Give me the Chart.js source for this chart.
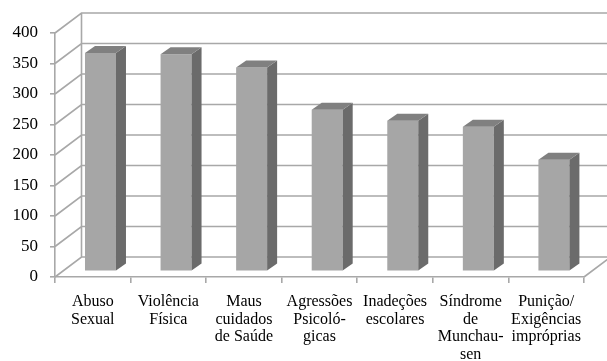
<!DOCTYPE html>
<html>
<head>
<meta charset="utf-8">
<script src="https://cdn.jsdelivr.net/npm/chart.js@4/dist/chart.umd.min.js"></script>
<style>
  html, body { margin: 0; padding: 0; background: #fff; }
  canvas { display: block; }
</style>
</head>
<body>
<canvas id="chart" width="607" height="361"></canvas>
<script>
// data
const categories = [
  ["Abuso", "Sexual"],
  ["Violência", "Física"],
  ["Maus", "cuidados", "de Saúde"],
  ["Agressões", "Psicoló-", "gicas"],
  ["Inadeções", "escolares"],
  ["Síndrome", "de", "Munchau-", "sen"],
  ["Punição/", "Exigências", "impróprias"]
];
const values = [358, 356, 334, 265, 247, 237, 183];
const yTicks = [0, 50, 100, 150, 200, 250, 300, 350, 400];

// 3D look: wall depth and bar depth
const WALL_DX = 26.5, WALL_DY = -20;
const BAR_SHIFT_X = 7.7, BAR_SHIFT_Y = -5.7;
const BAR_DX = 10, BAR_DY = -7;
const GRID = "#a8a8a8";

const wallPlugin = {
  id: "wall3d",
  beforeDatasetsDraw(chart) {
    const { ctx, chartArea: a, scales: { y } } = chart;
    ctx.save();
    ctx.strokeStyle = GRID;
    ctx.lineWidth = 1.6;
    ctx.beginPath();
    y.ticks.forEach(t => {
      const py = y.getPixelForValue(t.value);
      // left wall diagonal
      ctx.moveTo(a.left, py);
      ctx.lineTo(a.left + WALL_DX, py + WALL_DY);
      // back wall line
      ctx.lineTo(a.right + WALL_DX + 10, py + WALL_DY);
    });
    // back wall left edge
    ctx.moveTo(a.left + WALL_DX, y.getPixelForValue(400) + WALL_DY);
    ctx.lineTo(a.left + WALL_DX, y.getPixelForValue(0) + WALL_DY);
    // floor right edge
    ctx.moveTo(a.right, a.bottom);
    ctx.lineTo(a.right + WALL_DX, a.bottom + WALL_DY);
    ctx.stroke();
    ctx.restore();

    // bars sit in the middle of the floor depth
    ctx.save();
    ctx.translate(BAR_SHIFT_X, BAR_SHIFT_Y);
  },
  afterDatasetsDraw(chart) {
    const { ctx } = chart;
    chart.getDatasetMeta(0).data.forEach(bar => {
      const p = bar.getProps(["x", "y", "base", "width"], true);
      const l = p.x - p.width / 2, r = p.x + p.width / 2;
      // side
      ctx.fillStyle = "#6b6b6b";
      ctx.beginPath();
      ctx.moveTo(r, p.y);
      ctx.lineTo(r + BAR_DX, p.y + BAR_DY);
      ctx.lineTo(r + BAR_DX, p.base + BAR_DY);
      ctx.lineTo(r, p.base);
      ctx.closePath();
      ctx.fill();
      // top
      ctx.fillStyle = "#808080";
      ctx.beginPath();
      ctx.moveTo(l, p.y);
      ctx.lineTo(l + BAR_DX, p.y + BAR_DY);
      ctx.lineTo(r + BAR_DX, p.y + BAR_DY);
      ctx.lineTo(r, p.y);
      ctx.closePath();
      ctx.fill();
    });
    ctx.restore();
  }
};

new Chart(document.getElementById("chart"), {
  type: "bar",
  data: {
    labels: categories,
    datasets: [{
      data: values,
      backgroundColor: "#a6a6a6",
      borderWidth: 0,
      barPercentage: 0.41,
      categoryPercentage: 1
    }]
  },
  options: {
    responsive: false,
    animation: false,
    devicePixelRatio: 1,
    layout: { padding: { top: 33, right: 23, left: 0, bottom: 0 } },
    plugins: { legend: { display: false }, tooltip: { enabled: false } },
    scales: {
      x: {
        afterFit: s => { s.height = 84; },
        grid: { drawOnChartArea: false, color: GRID, lineWidth: 1.6, tickLength: 6 },
        border: { color: GRID, width: 1.6 },
        ticks: {
          autoSkip: false, maxRotation: 0, padding: 10, color: "#000",
          font: { family: "'Liberation Serif', 'Times New Roman', serif", size: 16, lineHeight: 1.1 }
        }
      },
      y: {
        min: 0, max: 400,
        afterFit: s => { s.width = 55; },
        afterBuildTicks: s => { s.ticks = yTicks.map(v => ({ value: v })); },
        grid: { drawOnChartArea: false, color: GRID, lineWidth: 1.6, tickLength: 5 },
        border: { color: GRID, width: 1.6 },
        ticks: {
          padding: 12, color: "#000",
          font: { family: "'Liberation Serif', 'Times New Roman', serif", size: 17 }
        }
      }
    }
  },
  plugins: [wallPlugin]
});
</script>
</body>
</html>
